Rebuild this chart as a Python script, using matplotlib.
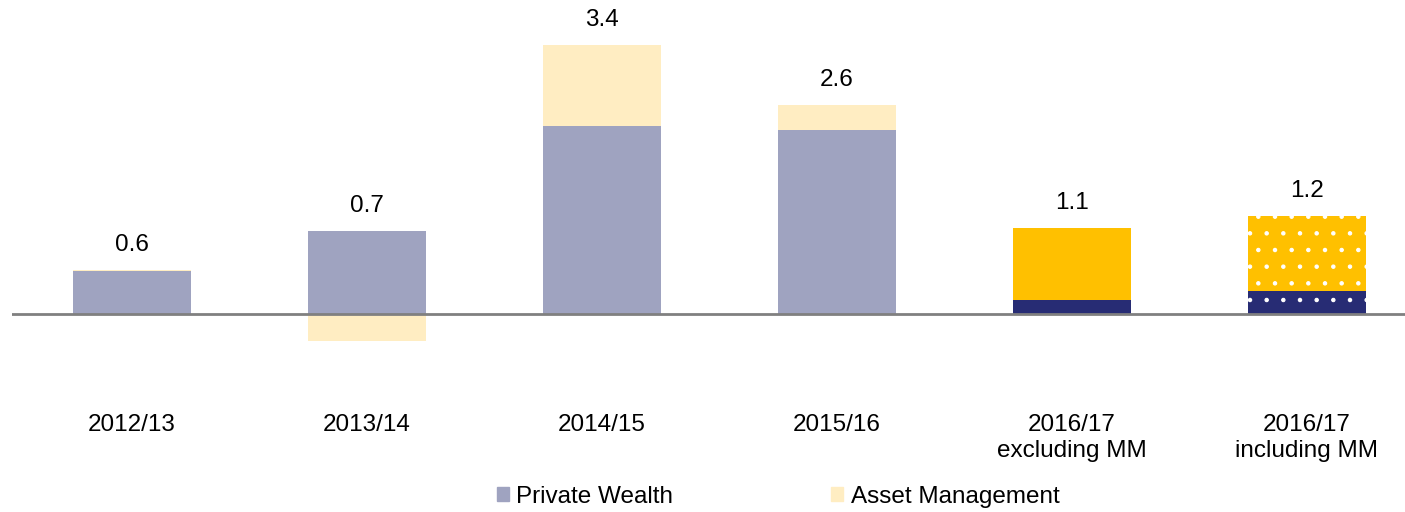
import matplotlib.pyplot as plt
from matplotlib.patches import Patch

plt.rcParams['font.family'] = ['Liberation Sans', 'DejaVu Sans']

categories = ['2012/13', '2013/14', '2014/15', '2015/16',
              '2016/17\nexcluding MM', '2016/17\nincluding MM']
private_wealth = [0.54, 1.05, 2.38, 2.33, 0.18, 0.29]
asset_management = [0.01, -0.34, 1.02, 0.31, 0.91, 0.95]
totals = [0.6, 0.7, 3.4, 2.6, 1.1, 1.2]

pw_colors = ['#9fa3c0'] * 4 + ['#272c74'] * 2
am_colors = ['#ffedc2'] * 4 + ['#ffc000'] * 2
hatches = [None] * 5 + ['.']

plt.rcParams['hatch.color'] = 'white'
plt.rcParams['hatch.linewidth'] = 0.8

fig = plt.figure(figsize=(14.05, 5.12), dpi=100)
ax = fig.add_axes([12 / 1405, (512 - 360) / 512, 1 - 12 / 1405, 340 / 512])

x = list(range(len(categories)))
for i in x:
    pw = private_wealth[i]
    am = asset_management[i]
    ax.bar(i, pw, width=0.5, color=pw_colors[i], hatch=hatches[i],
           edgecolor='white', linewidth=0)
    am_bottom = pw if am >= 0 else 0
    ax.bar(i, am, width=0.5, bottom=am_bottom, color=am_colors[i],
           hatch=hatches[i], edgecolor='white', linewidth=0)
    top = pw + max(am, 0)
    ax.annotate(f'{totals[i]:.1f}', (i, top), xytext=(0, 18),
                textcoords='offset points', ha='center', va='center',
                fontsize=17.5)

ax.axhline(0, color='#808080', linewidth=2)

ax.set_xlim(-0.51, 5.417)
ax.set_ylim(-0.582, 3.717)
ax.set_xticks(x)
ax.set_xticklabels(categories, fontsize=17.5, linespacing=1.2)
ax.tick_params(axis='x', length=0, pad=39)
ax.set_yticks([])
for s in ax.spines.values():
    s.set_visible(False)

handles = [Patch(color='#9fa3c0', label='Private Wealth'),
           Patch(color='#ffedc2', label='Asset Management')]
fig.legend(handles=handles, loc='center', bbox_to_anchor=(778 / 1405, 1 - 497 / 512),
           ncol=2, frameon=False, fontsize=17.5, handlelength=0.5, handleheight=0.5,
           handletextpad=0.3, columnspacing=6.5)

fig.savefig('out.png', dpi=100)
